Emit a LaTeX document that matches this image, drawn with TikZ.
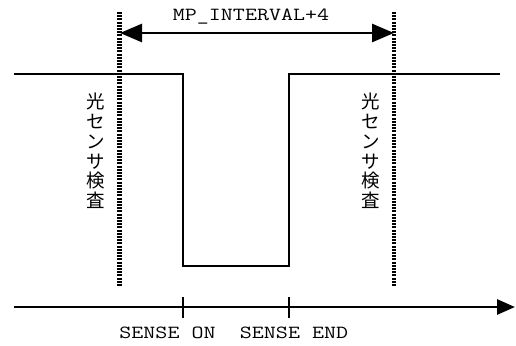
\documentclass[tikz,border=0pt]{standalone}
\usepackage{fontspec}
\newfontfamily\jpfont{Noto Sans CJK JP}
\newfontfamily\lblfont[FakeStretch=1.26]{Latin Modern Mono}
\usetikzlibrary{arrows.meta}
\begin{document}
\begin{tikzpicture}[x=1pt,y=-1pt,
  sensorline/.style={line width=4.5pt,dash pattern=on 2pt off 1.2pt},
  interval/.style={line width=2.8pt,{Triangle[length=22pt,width=18pt]}-{Triangle[length=22pt,width=18pt]}},
  signal/.style={line width=1.4pt},
  axisline/.style={line width=2.8pt,-{Triangle[length=18pt,width=15pt]}},
  tick/.style={line width=1.5pt},
  monolabel/.style={font=\lblfont\fontsize{18.5}{20}\selectfont,inner sep=0pt},
  jplabel/.style={font=\jpfont\fontsize{18.5}{19.7}\selectfont,align=center,inner sep=0pt}]
\useasboundingbox (0,0) rectangle (516,345);
% sensor check lines
\coordinate (Ltop) at (119.5,12);
\coordinate (Lbot) at (119.5,287);
\coordinate (Rtop) at (394,12);
\coordinate (Rbot) at (394,287);
\draw[sensorline] (Ltop) -- (Lbot);
\draw[sensorline] (Rtop) -- (Rbot);
% interval arrow
\coordinate (La) at (120,33);
\coordinate (Ra) at (394,33);
\draw[interval] (La) -- (Ra);
\node[monolabel] (mp) at (251,17) {MP\_INTERVAL+4};
% signal
\coordinate (s0) at (14,74);
\coordinate (s1) at (183,74);
\coordinate (s2) at (183,266);
\coordinate (s3) at (289,266);
\coordinate (s4) at (289,74);
\coordinate (s5) at (500,74);
\draw[signal] (s0) -- (s1) -- (s2) -- (s3) -- (s4) -- (s5);
% labels
\node[jplabel] (jpL) at (96,151) {光\\セ\\ン\\サ\\検\\査};
\node[jplabel] (jpR) at (371,151) {光\\セ\\ン\\サ\\検\\査};
% time axis
\coordinate (a0) at (14,307);
\coordinate (a1) at (515,307);
\draw[axisline] (a0) -- (a1);
\coordinate (t1a) at (183,297);
\coordinate (t1b) at (183,318);
\coordinate (t2a) at (289,297);
\coordinate (t2b) at (289,318);
\draw[tick] (t1a) -- (t1b);
\draw[tick] (t2a) -- (t2b);
\node[monolabel] (son) at (167.5,333) {SENSE ON};
\node[monolabel] (send) at (294,333) {SENSE END};
\end{tikzpicture}
\end{document}
